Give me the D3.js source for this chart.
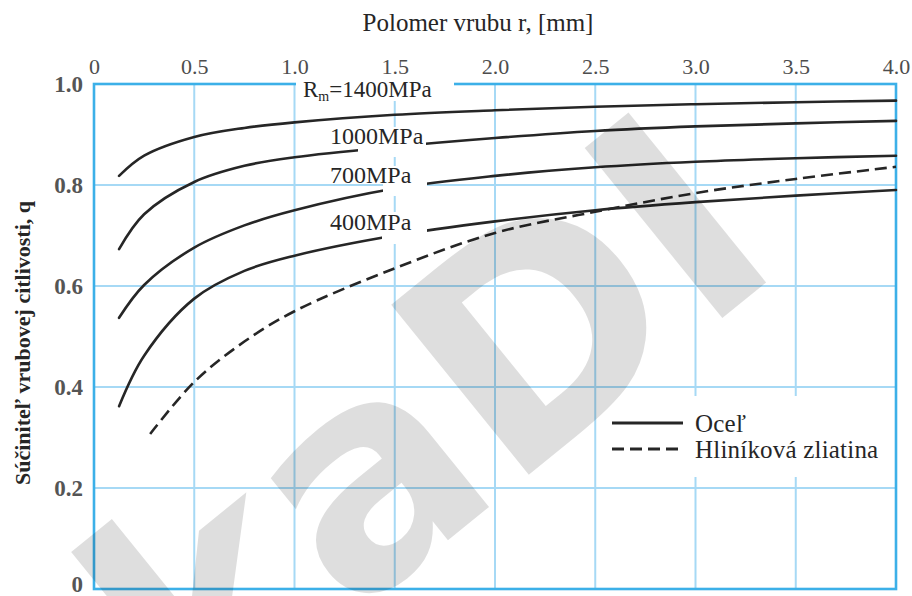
<!DOCTYPE html>
<html>
<head>
<meta charset="utf-8">
<script src="https://cdn.jsdelivr.net/npm/d3@7"></script>
<style>
  html, body { margin: 0; padding: 0; background: #fff; }
  svg { display: block; }
</style>
</head>
<body>
<svg id="chart" width="912" height="596"></svg>
<script>
// Notch radius r [mm] and notch sensitivity q
const xTicks = [0, 0.5, 1, 1.5, 2, 2.5, 3, 3.5, 4];
const xTickLabels = ["0", "0.5", "1.0", "1.5", "2.0", "2.5", "3.0", "3.5", "4.0"];
const yTicks = [0, 0.2, 0.4, 0.6, 0.8, 1.0];
const yTickLabels = ["0", "0.2", "0.4", "0.6", "0.8", "1.0"];

// steel curves (solid)
const radiusSteel = [0.125, 0.25, 0.5, 0.75, 1.0, 1.5, 2.0, 2.5, 3.0, 3.5, 4.0];
const q1400 = [0.818, 0.858, 0.895, 0.913, 0.924, 0.939, 0.948, 0.955, 0.960, 0.964, 0.967];
const q1000 = [0.673, 0.742, 0.806, 0.838, 0.855, 0.876, 0.893, 0.907, 0.916, 0.922, 0.927];
const q700  = [0.537, 0.602, 0.676, 0.720, 0.750, 0.793, 0.818, 0.835, 0.846, 0.853, 0.858];
const q400  = [0.362, 0.462, 0.575, 0.630, 0.660, 0.700, 0.728, 0.750, 0.766, 0.779, 0.790];
const steelLabels = ["1400MPa", "1000MPa", "700MPa", "400MPa"];

// aluminium alloy curve (dashed)
const radiusAl = [0.28, 0.5, 0.75, 1.0, 1.5, 2.0, 2.5, 3.0, 3.5, 4.0];
const qAl = [0.307, 0.410, 0.490, 0.550, 0.635, 0.705, 0.747, 0.784, 0.812, 0.836];

const title = "Polomer vrubu r, [mm]";
const yTitle = "Súčiniteľ vrubovej citlivosti, q";
const legendLabels = ["Oceľ", "Hliníková zliatina"];

const svg = d3.select("#chart");
const plotLeft = 94, plotRight = 896, plotTop = 84, plotBottom = 589;
const x = d3.scaleLinear().domain([0, 4]).range([plotLeft, plotRight]);
const y = d3.scaleLinear().domain([0, 1]).range([plotBottom, plotTop]);

const serif = "'Liberation Serif', 'Times New Roman', serif";
const gridColor = "#a6d9f5";
const frameColor = "#3cb0e8";
const ink = "#262626";

// grid
const grid = svg.append("g");
grid.selectAll("line.v").data(xTicks.slice(1, -1)).join("line").attr("class", "v")
  .attr("x1", d => x(d)).attr("x2", d => x(d))
  .attr("y1", plotTop).attr("y2", plotBottom)
  .attr("stroke", gridColor).attr("stroke-width", 2);
grid.selectAll("line.h").data(yTicks.slice(1, -1)).join("line").attr("class", "h")
  .attr("x1", plotLeft).attr("x2", plotRight)
  .attr("y1", d => y(d)).attr("y2", d => y(d))
  .attr("stroke", gridColor).attr("stroke-width", 2);

// frame
svg.append("rect")
  .attr("x", plotLeft).attr("y", plotTop)
  .attr("width", plotRight - plotLeft).attr("height", plotBottom - plotTop)
  .attr("fill", "none").attr("stroke", frameColor).attr("stroke-width", 2.6);

// curves
const line = d3.line().x(d => x(d[0])).y(d => y(d[1])).curve(d3.curveCatmullRom.alpha(0.5));
const steelSeries = [q1400, q1000, q700, q400];
svg.append("g").selectAll("path").data(steelSeries).join("path")
  .attr("d", s => line(radiusSteel.map((r, i) => [r, s[i]])))
  .attr("fill", "none").attr("stroke", ink).attr("stroke-width", 2.6)
  .attr("stroke-linecap", "round");
svg.append("path")
  .attr("d", line(radiusAl.map((r, i) => [r, qAl[i]])))
  .attr("fill", "none").attr("stroke", ink).attr("stroke-width", 2.6)
  .attr("stroke-dasharray", "12,6");

// curve labels sit in small white gaps cut out of the lines
const labelBoxes = [
  { x: 296, y: 78, w: 158, h: 23, tx: 303, ty: 97 },
  { x: 358, y: 127, w: 68, h: 30, tx: 330, ty: 144 },
  { x: 383, y: 166, w: 44, h: 30, tx: 330, ty: 183 },
  { x: 382, y: 212, w: 45, h: 32, tx: 330, ty: 230 }
];
const labels = svg.append("g");
labels.selectAll("rect").data(labelBoxes).join("rect")
  .attr("x", d => d.x).attr("y", d => d.y).attr("width", d => d.w).attr("height", d => d.h)
  .attr("fill", "#fff");
labels.selectAll("text").data(labelBoxes).join("text")
  .attr("x", d => d.tx).attr("y", d => d.ty)
  .attr("font-family", serif).attr("font-size", 24).attr("fill", ink)
  .each(function (d, i) {
    const t = d3.select(this);
    if (i === 0) {
      t.attr("font-size", 23);
      t.append("tspan").text("R");
      t.append("tspan").attr("font-size", 14).attr("dy", 4).text("m");
      t.append("tspan").attr("dy", -4).text("=" + steelLabels[0]);
    } else {
      t.text(steelLabels[i]);
    }
  });

// axes
const xAxis = svg.append("g").attr("transform", `translate(0,${plotTop})`)
  .call(d3.axisTop(x).tickValues(xTicks).tickSize(0).tickPadding(10)
    .tickFormat((d, i) => xTickLabels[i]));
xAxis.select(".domain").remove();
xAxis.selectAll("text").attr("font-family", serif).attr("font-size", 22).attr("fill", "#4d4d4d");

const yAxis = svg.append("g").attr("transform", `translate(${plotLeft},0)`)
  .call(d3.axisLeft(y).tickValues(yTicks).tickSize(0).tickPadding(11)
    .tickFormat((d, i) => yTickLabels[i]));
yAxis.select(".domain").remove();
yAxis.selectAll("text").attr("font-family", serif).attr("font-size", 23)
  .attr("font-weight", "bold").attr("fill", "#555");
yAxis.selectAll("text").filter((d, i) => i === 0).attr("dy", "0.12em");

// titles
svg.append("text").attr("x", 478).attr("y", 31).attr("text-anchor", "middle")
  .attr("font-family", serif).attr("font-size", 25).attr("fill", ink).text(title);
svg.append("text").attr("transform", "translate(30,343) rotate(-90)")
  .attr("text-anchor", "middle").attr("font-family", serif).attr("font-size", 22)
  .attr("font-weight", "bold").attr("fill", ink).text(yTitle);

// legend
const lg = svg.append("g");
lg.append("rect").attr("x", 605).attr("y", 396).attr("width", 289).attr("height", 81).attr("fill", "#fff");
const lgRows = [{ y: 423, dash: null }, { y: 449, dash: "12,6" }];
lgRows.forEach((r, i) => {
  lg.append("line").attr("x1", 612).attr("x2", 683).attr("y1", r.y).attr("y2", r.y)
    .attr("stroke", ink).attr("stroke-width", 3).attr("stroke-dasharray", r.dash);
  lg.append("text").attr("x", 695).attr("y", r.y + 9)
    .attr("font-family", serif).attr("font-size", 25).attr("fill", ink)
    .attr("letter-spacing", 0.2).text(legendLabels[i]);
});

// translucent stamp across the plot
svg.append("text")
  .attr("transform", "translate(195,745) rotate(-39)")
  .attr("font-family", "'DejaVu Sans', sans-serif").attr("font-weight", "bold")
  .attr("font-size", 300).attr("fill", "#000").attr("fill-opacity", 0.13)
  .text("kaDI");
</script>
</body>
</html>
